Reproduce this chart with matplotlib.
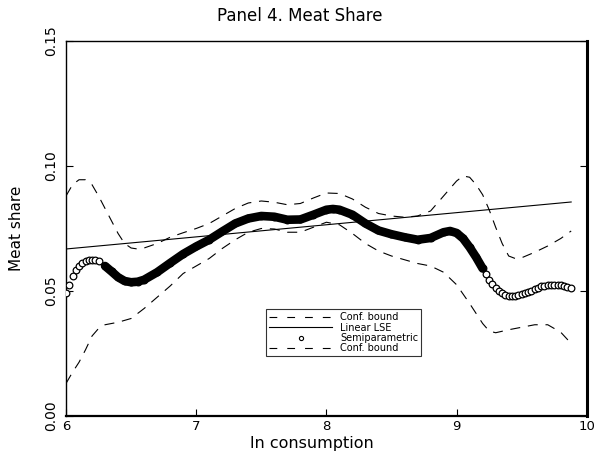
import matplotlib
matplotlib.use('Agg')
import matplotlib.pyplot as plt
from matplotlib.lines import Line2D

# semiparametric fit
semi_x = [6.00, 6.025, 6.05, 6.075, 6.10, 6.125, 6.15, 6.175, 6.20, 6.225, 6.25, 6.30,
          6.35, 6.40, 6.45, 6.50, 6.55, 6.60, 6.70, 6.80, 6.90, 7.00, 7.10, 7.20, 7.30,
          7.40, 7.50, 7.60, 7.70, 7.80, 7.90, 8.00, 8.05, 8.10, 8.20, 8.30, 8.40, 8.50,
          8.60, 8.70, 8.80, 8.90, 8.95, 9.00, 9.05, 9.10, 9.15, 9.20, 9.225, 9.25, 9.275,
          9.30, 9.325, 9.35, 9.375, 9.40, 9.425, 9.45, 9.475, 9.50, 9.525, 9.55, 9.575,
          9.60, 9.625, 9.65, 9.675, 9.70, 9.725, 9.75, 9.775, 9.80, 9.825, 9.85, 9.875]
semi_y = [0.0490, 0.0525, 0.0560, 0.0585, 0.0600, 0.0612, 0.0620, 0.0624, 0.0625, 0.0624,
          0.0618, 0.0600, 0.0578, 0.0555, 0.0540, 0.0535, 0.0537, 0.0545, 0.0575, 0.0612,
          0.0648, 0.0678, 0.0705, 0.0738, 0.0770, 0.0790, 0.0800, 0.0797, 0.0785, 0.0786,
          0.0805, 0.0825, 0.0828, 0.0825, 0.0805, 0.0770, 0.0742, 0.0727, 0.0715, 0.0705,
          0.0712, 0.0735, 0.0740, 0.0732, 0.0710, 0.0675, 0.0635, 0.0590, 0.0567, 0.0545,
          0.0527, 0.0510, 0.0498, 0.0490, 0.0483, 0.0478, 0.0478, 0.0480, 0.0483, 0.0487,
          0.0491, 0.0495, 0.0501, 0.0507, 0.0513, 0.0518, 0.0521, 0.0523, 0.0523, 0.0522,
          0.0522, 0.0522, 0.0520, 0.0517, 0.0513]

# linear LSE
lse_x = [6.00, 9.88]
lse_y = [0.0668, 0.0856]

# upper confidence bound
up_x = [6.00, 6.05, 6.10, 6.15, 6.20, 6.25, 6.30, 6.35, 6.40, 6.45, 6.50, 6.55, 6.60,
        6.70, 6.80, 6.90, 7.00, 7.10, 7.20, 7.30, 7.40, 7.50, 7.60, 7.70, 7.80, 7.90,
        8.00, 8.10, 8.20, 8.30, 8.40, 8.50, 8.60, 8.70, 8.80, 8.90, 9.00, 9.05, 9.10,
        9.15, 9.20, 9.25, 9.30, 9.35, 9.40, 9.45, 9.50, 9.60, 9.70, 9.80, 9.88]
up_y = [0.0880, 0.0925, 0.0945, 0.0945, 0.0925, 0.0880, 0.0830, 0.0780, 0.0730, 0.0690,
        0.0672, 0.0668, 0.0672, 0.0690, 0.0715, 0.0733, 0.0750, 0.0770, 0.0800, 0.0830,
        0.0852, 0.0860, 0.0855, 0.0845, 0.0850, 0.0872, 0.0892, 0.0890, 0.0868, 0.0835,
        0.0810, 0.0800, 0.0795, 0.0800, 0.0820, 0.0880, 0.0940, 0.0960, 0.0955, 0.0925,
        0.0885, 0.0825, 0.0755, 0.0690, 0.0640, 0.0630, 0.0633, 0.0655, 0.0680, 0.0710,
        0.0740]

# lower confidence bound
lo_x = [6.00, 6.05, 6.10, 6.15, 6.20, 6.25, 6.30, 6.40, 6.50, 6.60, 6.70, 6.80, 6.90,
        7.00, 7.10, 7.20, 7.30, 7.40, 7.50, 7.60, 7.70, 7.80, 7.90, 8.00, 8.10, 8.20,
        8.30, 8.40, 8.50, 8.60, 8.70, 8.80, 8.90, 9.00, 9.10, 9.20, 9.25, 9.30, 9.40,
        9.50, 9.60, 9.70, 9.80, 9.88]
lo_y = [0.0130, 0.0175, 0.0215, 0.0265, 0.0320, 0.0350, 0.0365, 0.0375, 0.0390, 0.0430,
        0.0475, 0.0520, 0.0570, 0.0600, 0.0630, 0.0670, 0.0705, 0.0735, 0.0750, 0.0748,
        0.0735, 0.0735, 0.0755, 0.0775, 0.0765, 0.0730, 0.0690, 0.0660, 0.0640, 0.0625,
        0.0610, 0.0600, 0.0575, 0.0525, 0.0450, 0.0370, 0.0340, 0.0333, 0.0345, 0.0355,
        0.0365, 0.0365, 0.0335, 0.0290]

x_ticks = [6, 7, 8, 9, 10]
y_ticks = [0.00, 0.05, 0.10, 0.15]
y_ticklabels = ['0.00', '0.05', '0.10', '0.15']

fig = plt.figure(figsize=(6, 4.63), dpi=100)
ax = fig.add_axes([0.11, 0.1015, 0.868, 0.81])

dash = (9, 7)
ax.plot(up_x, up_y, color='black', lw=0.8, dashes=dash)
ax.plot(lo_x, lo_y, color='black', lw=0.8, dashes=dash)
ax.plot(lse_x, lse_y, color='black', lw=0.8)

# thick band in the dense middle part, open circles everywhere
mid = [i for i, v in enumerate(semi_x) if 6.3 <= v <= 9.2]
ax.plot(semi_x, semi_y, 'o', ms=4.8, mfc='white', mec='black', mew=0.9, zorder=3)
ax.plot([semi_x[i] for i in mid], [semi_y[i] for i in mid], color='black', lw=6.2,
        solid_capstyle='round', solid_joinstyle='round', zorder=4)

ax.set_xlim(6, 10)
ax.set_ylim(0, 0.15)
ax.set_xticks(x_ticks)
ax.set_xticklabels([str(t) for t in x_ticks], fontsize=9.5)
ax.set_yticks(y_ticks)
ax.set_yticklabels(y_ticklabels, fontsize=10, rotation=90, va='center')
ax.tick_params(axis='x', direction='in', length=5, width=0.8, pad=3)
ax.tick_params(axis='y', direction='in', length=5, width=0.8, right=True, pad=6)

ax.spines['left'].set_linewidth(1.0)
ax.spines['top'].set_linewidth(1.0)
ax.spines['right'].set_linewidth(2.2)
ax.spines['bottom'].set_linewidth(1.6)

ax.set_ylabel('Meat share', fontsize=11, labelpad=14)
fig.text(0.52, 0.042, 'ln consumption', ha='center', va='center', fontsize=11.5)
fig.text(0.5, 0.965, 'Panel 4. Meat Share', ha='center', va='center', fontsize=12)

handles = [
    Line2D([], [], color='black', lw=0.8, dashes=(7, 9)),
    Line2D([], [], color='black', lw=0.8),
    Line2D([], [], ls='none', marker='o', ms=3, mfc='white', mec='black', mew=0.8),
    Line2D([], [], color='black', lw=0.8, dashes=(7, 9)),
]
labels = ['Conf. bound', 'Linear LSE', 'Semiparametric', 'Conf. bound']
leg = ax.legend(handles, labels, loc='upper left', bbox_to_anchor=(0.384, 0.285),
                fontsize=7, frameon=True, fancybox=False, edgecolor='black',
                handlelength=6.5, handletextpad=0.8, borderpad=0.3, labelspacing=0.05,
                borderaxespad=0)
leg.get_frame().set_linewidth(0.8)

fig.savefig('out.png', dpi=100)
